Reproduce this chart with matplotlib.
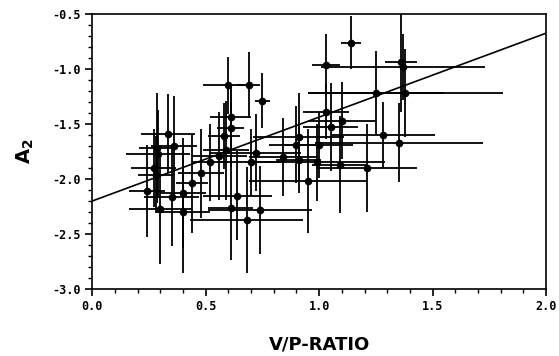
import matplotlib.pyplot as plt
import numpy as np

plt.rcParams['axes.unicode_minus'] = False

# V/P ratio, A2, and the error half-widths
vp = [1.14, 1.36, 1.37, 1.03, 1.38, 1.25, 0.60, 0.69, 0.75,
      0.335, 0.285, 0.36, 0.61, 0.58, 0.61, 0.56, 0.52, 0.59, 0.72, 0.70,
      0.84, 0.91, 0.90, 0.91, 0.95, 0.99, 1.00, 1.05, 1.10, 1.03, 1.28,
      1.35, 1.09, 1.21,
      0.28, 0.24, 0.30, 0.35, 0.40, 0.40, 0.44, 0.48, 0.64, 0.61, 0.74,
      0.68, 0.29, 0.27]
a2 = [-0.76, -0.94, -0.98, -0.96, -1.22, -1.22, -1.15, -1.15, -1.29,
      -1.59, -1.72, -1.70, -1.44, -1.61, -1.54, -1.79, -1.85, -1.74, -1.76, -1.85,
      -1.80, -1.62, -1.69, -1.83, -2.02, -1.85, -1.69, -1.53, -1.47, -1.39, -1.60,
      -1.67, -1.87, -1.90,
      -1.96, -2.11, -2.27, -2.16, -2.13, -2.30, -2.04, -1.95, -2.15, -2.26, -2.28,
      -2.37, -1.77, -1.90]
vp_err = [0.045, 0.07, 0.36, 0.06, 0.43, 0.30, 0.11, 0.05, 0.035,
          0.12, 0.08, 0.10, 0.09, 0.07, 0.06, 0.12, 0.08, 0.10, 0.20, 0.15,
          0.15, 0.20, 0.12, 0.10, 0.26, 0.30, 0.15, 0.12, 0.15, 0.10, 0.23,
          0.37, 0.12, 0.22,
          0.08, 0.08, 0.14, 0.12, 0.10, 0.12, 0.07, 0.10, 0.15, 0.10, 0.23,
          0.25, 0.14, 0.10]
a2_err = [0.24, 0.45, 0.30, 0.28, 0.40, 0.38, 0.26, 0.30, 0.25,
          0.36, 0.50, 0.45, 0.30, 0.30, 0.35, 0.40, 0.35, 0.45, 0.35, 0.30,
          0.35, 0.40, 0.35, 0.30, 0.47, 0.35, 0.30, 0.40, 0.35, 0.25, 0.30,
          0.36, 0.44, 0.40,
          0.35, 0.42, 0.50, 0.45, 0.50, 0.55, 0.45, 0.40, 0.40, 0.48, 0.40,
          0.48, 0.40, 0.35]

# fitted line
fit_x = [0.0, 2.0]
fit_y = [-2.2, -0.675]

fig = plt.figure(figsize=(5.59, 3.56), dpi=100)
ax = fig.add_axes([0.165, 0.188, 0.812, 0.773])

ax.errorbar(vp, a2, xerr=vp_err, yerr=a2_err, fmt='o', color='black',
            ms=4.5, elinewidth=1.3, capsize=0)
ax.plot(fit_x, fit_y, color='black', lw=1.2)

ax.set_xlim(0, 2.0)
ax.set_ylim(-3.0, -0.5)
ax.set_xticks(np.arange(0, 2.01, 0.5))
ax.set_yticks(np.arange(-3.0, -0.49, 0.5))
ax.set_xticks(np.arange(0, 2.01, 0.1), minor=True)
ax.set_yticks(np.arange(-3.0, -0.49, 0.1), minor=True)
ax.set_xticklabels(['0.0', '0.5', '1.0', '1.5', '2.0'])
ax.set_yticklabels(['-3.0', '-2.5', '-2.0', '-1.5', '-1.0', '-0.5'])
ax.tick_params(which='major', direction='out', length=5, width=1.2,
               labelsize=8.5, pad=3)
ax.tick_params(which='minor', direction='out', length=3, width=1)
for lab in ax.get_xticklabels() + ax.get_yticklabels():
    lab.set_family('DejaVu Sans Mono')
    lab.set_fontweight('bold')
for s in ax.spines.values():
    s.set_linewidth(1.2)

ax.set_xlabel('V/P-RATIO', fontsize=13, fontweight='bold', labelpad=16)
ax.set_ylabel('A$_\\mathbf{2}$', fontsize=14, fontweight='bold', labelpad=12)

fig.savefig('out.png', dpi=100)
